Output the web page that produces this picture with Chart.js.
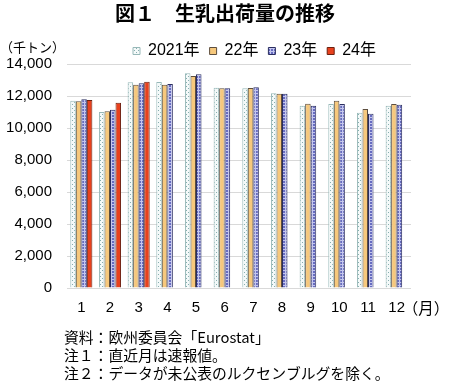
<!DOCTYPE html>
<html>
<head>
<meta charset="utf-8">
<script src="https://cdn.jsdelivr.net/npm/chart.js@4.4.1/dist/chart.umd.min.js"></script>
<style>
  html, body { margin: 0; padding: 0; background: #fff; }
  #wrap { width: 450px; height: 389px; position: relative; }
</style>
</head>
<body>
<div id="wrap"><canvas id="myChart" width="450" height="389"></canvas></div>
<script>
// data (thousand tonnes)
const months = ['1', '2', '3', '4', '5', '6', '7', '8', '9', '10', '11', '12'];
const seriesNames = ['2021年', '22年', '23年', '24年'];
const y2021 = [11710, 11000, 12860, 12880, 13420, 12520, 12480, 12170, 11390, 11500, 10960, 11390];
const y2022 = [11670, 11040, 12710, 12710, 13250, 12480, 12500, 12140, 11520, 11710, 11190, 11500];
const y2023 = [11790, 11140, 12790, 12750, 13360, 12480, 12540, 12140, 11390, 11500, 10890, 11460];
const y2024 = [11750, 11580, 12890, null, null, null, null, null, null, null, null, null];
const yTicks = [0, 2000, 4000, 6000, 8000, 10000, 12000, 14000];
const notes = [
  '資料：欧州委員会「Eurostat」',
  '注１：直近月は速報値。',
  '注２：データが未公表のルクセンブルグを除く。'
];

const latin = "'Liberation Sans', 'Noto Sans CJK JP', sans-serif";
const cjk = "'Noto Sans CJK JP', sans-serif";

/* small tiles for the excel-like fills */
function makePattern(size, draw) {
  let c = document.createElement('canvas');
  c.width = size; c.height = size;
  let g = c.getContext('2d');
  draw(g);
  return g.createPattern(c, 'repeat');
}
const dotFill = makePattern(4, (g) => {
  g.fillStyle = '#f4f9f9'; g.fillRect(0, 0, 4, 4);
  g.fillStyle = '#86aeae';
  g.fillRect(0, 0, 1, 1); g.fillRect(2, 2, 1, 1);
});
const checkFill = makePattern(3, (g) => {
  g.fillStyle = '#676cc0'; g.fillRect(0, 0, 3, 3);
  g.fillStyle = '#c4c6ee';
  g.fillRect(0, 0, 3, 1); g.fillRect(0, 0, 1, 3);
});

// title and legend sit right of the canvas centre in the original
const boxShift = {
  id: 'boxShift',
  afterLayout(chart) {
    let lg = chart.legend;
    lg.left += 49; lg.right += 49;
    lg.top += 5; lg.bottom += 5;
    let tt = chart.titleBlock;
    tt.left += 19.5; tt.right += 19.5;
  }
};

const extraText = {
  id: 'extraText',
  afterDraw(chart) {
    let ctx = chart.ctx;
    ctx.save();
    ctx.fillStyle = '#000';
    ctx.textBaseline = 'middle';
    ctx.textAlign = 'left';
    ctx.font = '13px ' + cjk;
    ctx.fillText('（千トン）', 0, 47);
    ctx.font = '15.5px ' + cjk;
    ctx.textAlign = 'center';
    ctx.fillText('（月）', 426, 308);
    ctx.textAlign = 'left';
    ctx.font = '14.8px ' + cjk;
    notes.forEach((t, i) => {
      ctx.fillText(t, 64, 337 + i * 18);
    });
    ctx.restore();
  }
};

Chart.defaults.font.family = latin;
Chart.defaults.color = '#000';

let chartdata = {
  labels: months,
  datasets: [
    { label: seriesNames[0], data: y2021, backgroundColor: dotFill, borderColor: '#97b8b8', borderWidth: 1 },
    { label: seriesNames[1], data: y2022, backgroundColor: '#f6c87c', borderColor: '#5d4e3e', borderWidth: 1 },
    { label: seriesNames[2], data: y2023, backgroundColor: checkFill, borderColor: '#2b2e60', borderWidth: 1 },
    { label: seriesNames[3], data: y2024, backgroundColor: '#e8411d', borderColor: '#6b2010', borderWidth: 1 }
  ]
};

let ctx = document.getElementById('myChart');

let barGraph = new Chart(ctx, {
  type: 'bar',
  data: chartdata,
  options: {
    responsive: false,
    animation: false,
    layout: { padding: { left: 0, right: 39, top: 0, bottom: 0 } },
    datasets: { bar: { categoryPercentage: 0.77, barPercentage: 1.0 } },
    plugins: {
      tooltip: { enabled: false },
      title: {
        display: true,
        text: '図１　生乳出荷量の推移',
        font: { family: cjk, size: 20, weight: 'bold', lineHeight: 1.2 },
        color: '#000',
        padding: { top: 1, bottom: 3 }
      },
      legend: {
        display: true,
        position: 'top',
        labels: {
          boxWidth: 7,
          boxHeight: 7,
          padding: 10,
          font: { family: latin, size: 16 },
          color: '#000'
        }
      }
    },
    scales: {
      x: {
        grid: { display: false, drawTicks: false },
        border: { display: false },
        ticks: { padding: 11, font: { size: 15 } },
        afterFit(scale) { scale.height = 101; }
      },
      y: {
        min: 0,
        max: 14000,
        afterBuildTicks(scale) { scale.ticks = yTicks.map((v) => ({ value: v })); },
        grid: { color: '#d9d9d9', drawTicks: false },
        border: { display: false },
        ticks: {
          padding: 15,
          font: { size: 15 },
          callback: (v) => v.toLocaleString('en-US')
        },
        afterFit(scale) { scale.width = 67; }
      }
    }
  },
  plugins: [boxShift, extraText]
});
</script>
</body>
</html>
